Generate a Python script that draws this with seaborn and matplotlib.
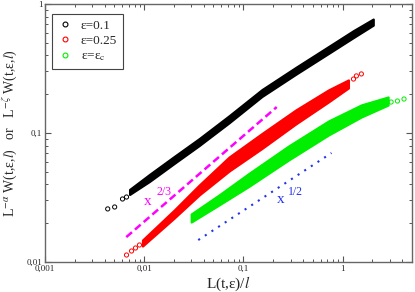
import numpy as np
import matplotlib
matplotlib.use('Agg')
import matplotlib.pyplot as plt
import matplotlib.ticker as mticker
from matplotlib.lines import Line2D
import seaborn as sns
import pandas as pd

# data bands: x, lower edge, upper edge
black_x = [0.00713, 0.0113, 0.0201, 0.0359, 0.0718, 0.154, 0.337, 0.723, 1.29, 2.04]
black_lo = [0.0334, 0.0421, 0.0581, 0.0800, 0.120, 0.192, 0.285, 0.414, 0.550, 0.686]
black_hi = [0.0365, 0.0477, 0.0658, 0.0905, 0.136, 0.217, 0.322, 0.468, 0.622, 0.764]
black_sparse_x = [0.00429, 0.00504, 0.00605, 0.00664]
black_sparse_y = [0.0258, 0.0267, 0.0308, 0.0319]

red_x = [0.00962, 0.0201, 0.0359, 0.0718, 0.154, 0.337, 0.723, 1.146]
red_lo = [0.01330, 0.02193, 0.0331, 0.0507, 0.0759, 0.1174, 0.1743, 0.2235]
red_hi = [0.01480, 0.02529, 0.0395, 0.0651, 0.0991, 0.1507, 0.2159, 0.2578]
red_sparse_x = [0.00664, 0.00746, 0.00818, 0.00897, 1.29, 1.38, 1.549]
red_sparse_y = [0.01133, 0.01217, 0.01284, 0.01355, 0.262, 0.277, 0.287]

green_x = [0.0298, 0.0569, 0.1138, 0.286, 0.723, 1.549, 2.88]
green_lo = [0.02042, 0.0277, 0.0386, 0.0618, 0.0966, 0.1332, 0.1648]
green_hi = [0.02355, 0.0331, 0.0486, 0.0793, 0.1240, 0.1651, 0.1901]
green_sparse_x = [3.09, 3.58, 4.17]
green_sparse_y = [0.1738, 0.177, 0.1834]

# guide lines x^(2/3) and x^(1/2)
slope23_x = [0.0066, 0.217]
slope23_y = [0.0156, 0.159]
slope12_x = [0.0351, 0.774]
slope12_y = [0.0148, 0.070]

labels = ['ε=0.1', 'ε=0.25', r'ε=ε$_{\rm c}$']
colors = ['black', '#ff0000', '#00ee00']
xticks = [0.001, 0.01, 0.1, 1]
xticklabels = ['0,001', '0,01', '0,1', '1']
yticks = [0.01, 0.1, 1]
yticklabels = ['0,01', '0,1', '1']

sns.set_style('ticks')
plt.rcParams['font.family'] = ['Liberation Serif', 'DejaVu Serif']
plt.rcParams['mathtext.fontset'] = 'stix'

fig = plt.figure(figsize=(4.15, 2.92), dpi=100)
ax = fig.add_axes([0.1084, 0.1027, 0.884, 0.8836])

series = [
    (black_x, black_lo, black_hi, black_sparse_x, black_sparse_y),
    (red_x, red_lo, red_hi, red_sparse_x, red_sparse_y),
    (green_x, green_lo, green_hi, green_sparse_x, green_sparse_y),
]
for (bx, lo, hi, sx, sy), col in zip(series, colors):
    ax.fill_between(bx, lo, hi, color=col, lw=1.6, edgecolor=col, joinstyle='round')
    df = pd.DataFrame({'x': sx, 'y': sy})
    sns.scatterplot(data=df, x='x', y='y', ax=ax, marker='o', s=9,
                    facecolors='none', edgecolor=col, linewidth=0.7, legend=False)

ax.plot(slope23_x, slope23_y, color='#ff00ff', lw=1.8, dashes=(3, 1.6))
ax.plot(slope12_x, slope12_y, color='#2233ee', lw=1.5, dashes=(1, 2.8))
ax.text(0.0108, 0.0292, 'x', color='#ff00ff', fontsize=11, ha='center', va='center')
ax.text(0.0160, 0.0352, '2/3', color='#ff00ff', fontsize=8.5, ha='center', va='center')
ax.text(0.238, 0.0303, 'x', color='#2233ee', fontsize=11, ha='center', va='center')
ax.text(0.337, 0.0352, '1/2', color='#2233ee', fontsize=8.5, ha='center', va='center')

ax.set_xscale('log')
ax.set_yscale('log')
ax.set_xlim(0.001, 5)
ax.set_ylim(0.01, 1)
ax.set_xticks(xticks)
ax.set_xticklabels(xticklabels)
ax.set_yticks(yticks)
ax.set_yticklabels(yticklabels)
ax.xaxis.set_minor_locator(mticker.LogLocator(base=10, subs=np.arange(2, 10)))
ax.yaxis.set_minor_locator(mticker.LogLocator(base=10, subs=np.arange(2, 10)))
ax.xaxis.set_minor_formatter(mticker.NullFormatter())
ax.yaxis.set_minor_formatter(mticker.NullFormatter())
ax.tick_params(which='both', direction='in', top=True, right=True, color='#555555',
               labelsize=6.5, pad=2)
ax.tick_params(which='major', length=4.5, width=0.8)
ax.tick_params(which='minor', length=2.5, width=0.7)
for sp in ax.spines.values():
    sp.set_color('#666666')
    sp.set_linewidth(1.0)

ax.set_xlabel(r'L(t,ε)/$l$', fontsize=11)
ax.set_ylabel(r'L$^{-\alpha}$ W(t,ε,$l$)   or   L$^{-\zeta}$ W(t,ε,$l$)', fontsize=10)
ax.xaxis.set_label_coords(0.5, -0.05)
ax.yaxis.set_label_coords(-0.07, 0.5)

handles = [Line2D([], [], ls='none', marker='o', ms=3.5, mfc='none', mec=c, mew=0.8)
           for c in colors]
leg = ax.legend(handles, labels, loc='upper left', bbox_to_anchor=(0.019, 0.961),
                fontsize=9.5, frameon=True, fancybox=False, framealpha=1,
                edgecolor='#444444', borderaxespad=0, handlelength=1.2,
                handletextpad=0.6, labelspacing=0.25, borderpad=0.4)
leg.get_frame().set_linewidth(0.8)

fig.savefig('out.png', dpi=100)
